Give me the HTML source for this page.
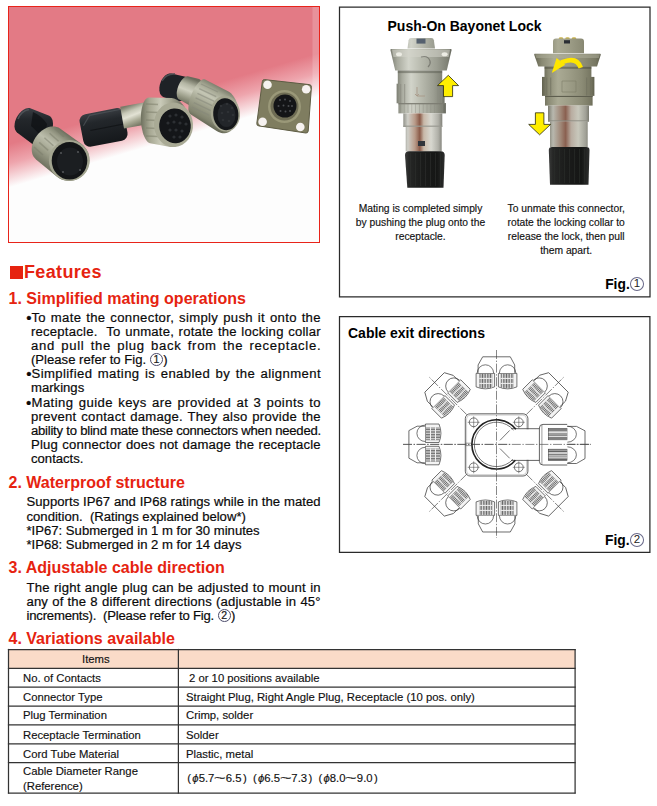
<!DOCTYPE html>
<html><head><meta charset="utf-8">
<style>
*{box-sizing:border-box}
html,body{margin:0;padding:0}
body{width:657px;height:806px;position:relative;overflow:hidden;background:#fff;font-family:"Liberation Sans",sans-serif;color:#000}
.a{position:absolute}
.h{color:#e62310;font-weight:bold;font-size:16px;line-height:20px;white-space:nowrap;left:8.5px}
.t{font-size:13.12px;line-height:14px;white-space:nowrap;color:#0a0a0a;-webkit-text-stroke:0.2px #0a0a0a}
.j{text-align:justify;text-align-last:justify;white-space:normal}
.c{display:inline-block;width:12.8px;height:12.8px;border:0.9px solid #4a4a6a;border-radius:50%;font-size:10.5px;line-height:11px;text-align:center;vertical-align:1.2px;margin:0 0.5px 0 0.3px;letter-spacing:0;text-indent:0;color:#222}
.cap{font-size:10.3px;line-height:13.8px;text-align:center;white-space:nowrap;color:#111;-webkit-text-stroke:0.15px #111}
.fig{font-weight:bold;font-size:13.8px;line-height:16px;white-space:nowrap}
.fig .c{width:14px;height:13.6px;font-weight:normal;font-size:11.5px;line-height:11.8px;vertical-align:2.1px;border-color:#6a6a8a;margin-left:0.3px}
.hl{position:absolute;height:1.3px;background:#333;left:8px;width:568px}
.vl{position:absolute;width:1.3px;background:#333;top:649px;height:144.6px}
.tt{position:absolute;font-size:11.3px;line-height:13px;white-space:nowrap;color:#111;-webkit-text-stroke:0.15px #111}
.b{display:inline-block;transform:translate(-0.5px,-0.1px) scale(1.15)}
.w{display:inline-block;width:11.4px;text-align:center;transform:scaleX(1.75)}
</style></head><body>

<!-- Photo -->
<div class="a" style="left:8px;top:6px;width:312px;height:237px;border:1px solid #e8241a;overflow:hidden">
<svg width="310" height="235" viewBox="9 7 310 235" style="display:block"><defs><linearGradient id="bg" gradientUnits="userSpaceOnUse" x1="158.8" y1="100" x2="170.6" y2="140"><stop offset="0" stop-color="#e37a85"/><stop offset="0.45" stop-color="#eea5ad"/><stop offset="1" stop-color="#fdfdfd"/></linearGradient><linearGradient id="rs" x1="0" y1="0" x2="1" y2="0"><stop offset="0" stop-color="#fff" stop-opacity="0"/><stop offset="1" stop-color="#fff" stop-opacity="0.55"/></linearGradient><linearGradient id="boot" x1="0" y1="0" x2="0" y2="1"><stop offset="0" stop-color="#3a3e43"/><stop offset="0.3" stop-color="#23272b"/><stop offset="1" stop-color="#15181b"/></linearGradient><linearGradient id="gCn" gradientUnits="userSpaceOnUse" x1="193.0" y1="79.0" x2="183.0" y2="105.0"><stop offset="0.00" stop-color="#6a6c5c"/><stop offset="0.25" stop-color="#b4b6a4"/><stop offset="0.45" stop-color="#cfd0c0"/><stop offset="0.70" stop-color="#9c9e8a"/><stop offset="1.00" stop-color="#5e604f"/></linearGradient><linearGradient id="gC" gradientUnits="userSpaceOnUse" x1="222.3" y1="85.3" x2="200.7" y2="123.7"><stop offset="0.00" stop-color="#6a6c5c"/><stop offset="0.18" stop-color="#a2a490"/><stop offset="0.36" stop-color="#c4c6b4"/><stop offset="0.60" stop-color="#a0a28d"/><stop offset="0.85" stop-color="#82846f"/><stop offset="1.00" stop-color="#5c5e4d"/></linearGradient><linearGradient id="gT" gradientUnits="userSpaceOnUse" x1="131.6" y1="104.4" x2="136.4" y2="127.6"><stop offset="0.00" stop-color="#7a7c6a"/><stop offset="0.25" stop-color="#c6c7b6"/><stop offset="0.45" stop-color="#e2e2d4"/><stop offset="0.70" stop-color="#a8a994"/><stop offset="1.00" stop-color="#6a6c5a"/></linearGradient><linearGradient id="gB" gradientUnits="userSpaceOnUse" x1="140.8" y1="122.9" x2="184.8" y2="122.9"><stop offset="0.00" stop-color="#6e705e"/><stop offset="0.20" stop-color="#a6a792"/><stop offset="0.45" stop-color="#c9cab8"/><stop offset="0.70" stop-color="#a2a38e"/><stop offset="1.00" stop-color="#65675a"/></linearGradient><linearGradient id="gA" gradientUnits="userSpaceOnUse" x1="71.3" y1="136.1" x2="47.0" y2="170.3"><stop offset="0.00" stop-color="#6a6d5c"/><stop offset="0.20" stop-color="#9c9e8a"/><stop offset="0.40" stop-color="#bcbeac"/><stop offset="0.65" stop-color="#9ea08b"/><stop offset="1.00" stop-color="#6a6c5a"/></linearGradient></defs><rect x="0" y="0" width="330" height="250" fill="url(#bg)"/><rect x="312.5" y="7" width="7" height="130" fill="#fff" opacity="0.18"/><path d="M159.4,89.0 L159.4,87.5 L159.6,85.9 L160.0,84.3 L160.5,82.8 L161.1,81.3 L161.8,79.8 L162.7,78.5 L163.6,77.3 L164.6,76.2 L165.7,75.3 L166.8,74.5 L167.9,74.0 L169.1,73.6 L170.2,73.4 L171.3,73.5 L184.4,76.5 L185.4,76.8 L186.4,77.2 L187.2,77.9 L188.0,78.8 L188.6,79.8 L189.1,81.0 L189.5,82.3 L189.7,83.7 L189.7,85.3 L189.6,86.9 L189.4,88.5 L189.0,90.1 L188.5,91.7 L187.9,93.3 L187.1,94.8 L186.2,96.2 L185.3,97.5 L184.3,98.6 L183.2,99.6 L182.0,100.4 L180.9,100.9 L179.8,101.3 L178.7,101.5 L177.6,101.5 L176.6,101.2 L163.7,97.2 L162.8,96.8 L161.9,96.1 L161.2,95.3 L160.5,94.3 L160.0,93.2 L159.7,91.9 L159.4,90.5Z" fill="#1e2226"/><path d="M162,81 Q166,73.5 175,74" stroke="#4a4e52" stroke-width="1.5" fill="none"/><path d="M176.7,93.3 L176.8,91.8 L177.1,90.4 L177.4,88.8 L177.9,87.3 L178.4,85.8 L179.1,84.3 L179.8,82.8 L180.7,81.5 L181.5,80.3 L182.4,79.2 L183.4,78.2 L184.3,77.4 L185.3,76.8 L186.2,76.4 L187.1,76.2 L187.9,76.2 L199.2,79.0 L199.9,79.4 L200.5,80.0 L201.0,80.9 L201.3,81.9 L201.5,83.1 L201.6,84.4 L201.6,85.9 L201.4,87.5 L201.1,89.1 L200.7,90.8 L200.2,92.5 L199.6,94.2 L198.8,95.9 L198.0,97.5 L197.1,99.0 L196.2,100.4 L195.2,101.7 L194.2,102.8 L193.2,103.7 L192.2,104.4 L191.3,104.9 L190.4,105.1 L189.5,105.2 L188.8,105.0 L179.3,99.6 L178.6,99.2 L178.0,98.6 L177.5,97.8 L177.2,96.9 L176.9,95.8 L176.8,94.6Z" fill="url(#gCn)"/><path d="M188.4,107.6 L188.5,105.6 L188.8,103.5 L189.3,101.3 L189.9,99.0 L190.6,96.7 L191.5,94.4 L192.5,92.1 L193.6,89.9 L194.7,87.8 L195.9,85.9 L197.2,84.2 L198.4,82.7 L199.7,81.4 L200.9,80.4 L202.1,79.7 L203.2,79.3 L204.2,79.2 L205.1,79.4 L227.5,91.0 L229.4,92.1 L231.2,93.6 L232.9,95.4 L234.3,97.4 L235.6,99.7 L236.7,102.2 L237.5,104.8 L238.1,107.6 L238.5,110.4 L238.5,113.3 L238.3,116.1 L237.9,118.8 L237.2,121.4 L236.2,123.9 L235.0,126.1 L233.6,128.1 L232.0,129.8 L230.3,131.2 L228.5,132.2 L226.5,132.9 L224.5,133.2 L222.5,133.2 L220.5,132.8 L218.5,132.0 L216.6,130.9 L190.1,114.1 L189.4,113.3 L188.9,112.3 L188.6,110.9 L188.4,109.4Z" fill="url(#gC)"/><path d="M201.0,84.0 l17,8" stroke="#85877a" stroke-width="1.3" fill="none" opacity="0.55"/><path d="M199.2,88.6 l17,8" stroke="#85877a" stroke-width="1.3" fill="none" opacity="0.55"/><path d="M197.4,93.3 l17,8" stroke="#85877a" stroke-width="1.3" fill="none" opacity="0.55"/><path d="M195.6,97.9 l17,8" stroke="#85877a" stroke-width="1.3" fill="none" opacity="0.55"/><path d="M193.8,102.6 l17,8" stroke="#85877a" stroke-width="1.3" fill="none" opacity="0.55"/><path d="M192.0,107.2 l17,8" stroke="#85877a" stroke-width="1.3" fill="none" opacity="0.55"/><ellipse cx="225.4" cy="113.6" rx="14.6" ry="17.9" transform="rotate(-6 225.4 113.6)" fill="#a4a590"/><ellipse cx="225.8" cy="114.2" rx="12.6" ry="16" transform="rotate(-6 225.8 114.2)" fill="#15171a"/><ellipse cx="226.5" cy="115" rx="9" ry="12" fill="#23262a"/><circle cx="221.0" cy="106.0" r="1.3" fill="#2e3135"/><circle cx="227.0" cy="104.0" r="1.3" fill="#2e3135"/><circle cx="232.0" cy="108.0" r="1.3" fill="#2e3135"/><circle cx="222.0" cy="113.0" r="1.3" fill="#2e3135"/><circle cx="228.0" cy="112.0" r="1.3" fill="#2e3135"/><circle cx="233.0" cy="115.0" r="1.3" fill="#2e3135"/><circle cx="223.0" cy="120.0" r="1.3" fill="#2e3135"/><circle cx="229.0" cy="121.0" r="1.3" fill="#2e3135"/><path d="M264.5,79.6 L309.4,84.6 Q311.6,85 311.4,87.2 L308.2,131 Q308,133.2 305.8,133 L258.8,125.9 Q256.6,125.6 256.8,123.4 L262.3,81.7 Q262.6,79.4 264.5,79.6 Z" fill="#7f7d60"/><path d="M264.5,79.6 L309.4,84.6 Q311.6,85 311.4,87.2 L308.2,131 Q308,133.2 305.8,133 L258.8,125.9 Q256.6,125.6 256.8,123.4 L262.3,81.7 Q262.6,79.4 264.5,79.6 Z" fill="none" stroke="#5e5c44" stroke-width="1"/><circle cx="267.5" cy="84.8" r="4.3" fill="#f6f2f0"/><circle cx="306.2" cy="89.3" r="4.3" fill="#f6f2f0"/><circle cx="262.6" cy="121.8" r="4.3" fill="#f6f2f0"/><circle cx="300.3" cy="127.0" r="4.3" fill="#f6f2f0"/><circle cx="284.5" cy="106.5" r="16.5" fill="#9a9878"/><circle cx="284.5" cy="106.5" r="14" fill="#6e6c54"/><circle cx="285" cy="106" r="11.5" fill="#141517"/><circle cx="280.0" cy="100.0" r="1" fill="#4a4c50"/><circle cx="285.0" cy="99.5" r="1" fill="#4a4c50"/><circle cx="290.0" cy="101.0" r="1" fill="#4a4c50"/><circle cx="278.5" cy="106.0" r="1" fill="#4a4c50"/><circle cx="283.5" cy="105.5" r="1" fill="#4a4c50"/><circle cx="288.5" cy="106.0" r="1" fill="#4a4c50"/><circle cx="292.0" cy="106.0" r="1" fill="#4a4c50"/><circle cx="280.5" cy="111.0" r="1" fill="#4a4c50"/><circle cx="285.5" cy="111.5" r="1" fill="#4a4c50"/><circle cx="290.0" cy="111.0" r="1" fill="#4a4c50"/><g transform="rotate(-11 103 127)"><rect x="81" y="111" width="45" height="33" rx="7" fill="url(#boot)"/><path d="M84,122 L92,113 L124,113" stroke="#50555a" stroke-width="1.2" fill="none" opacity="0.7"/><path d="M90,128 L124,128" stroke="#0e1012" stroke-width="1" opacity="0.7"/></g><g transform="rotate(-10 134 116)"><rect x="122" y="104.5" width="24" height="22" fill="url(#gT)"/></g><path d="M140.9,118.0 L141.0,115.0 L141.2,112.1 L141.6,109.4 L142.1,106.9 L142.8,104.6 L143.6,102.6 L144.5,100.8 L145.4,99.5 L146.5,98.4 L147.6,97.8 L148.8,97.5 L171.6,98.1 L174.0,98.6 L176.3,99.4 L178.5,100.7 L180.6,102.3 L182.5,104.3 L184.2,106.6 L185.7,109.2 L186.9,112.0 L187.9,115.0 L188.6,118.1 L189.0,121.2 L189.0,124.4 L188.8,127.6 L188.2,130.7 L187.4,133.6 L186.3,136.4 L184.9,138.9 L183.3,141.1 L181.5,143.0 L179.5,144.6 L177.3,145.8 L175.0,146.6 L172.7,146.9 L170.4,146.9 L150.0,143.3 L148.8,142.8 L147.7,141.9 L146.5,140.6 L145.5,139.0 L144.5,137.1 L143.6,134.9 L142.8,132.4 L142.2,129.7 L141.6,126.9 L141.2,124.0 L141.0,121.0Z" fill="url(#gB)"/><path d="M146,104.0 l12,0.5" stroke="#7d7f6c" stroke-width="1.6" fill="none" opacity="0.55"/><path d="M146,112.0 l12,0.5" stroke="#7d7f6c" stroke-width="1.6" fill="none" opacity="0.55"/><path d="M146,120.0 l12,0.5" stroke="#7d7f6c" stroke-width="1.6" fill="none" opacity="0.55"/><path d="M146,128.0 l12,0.5" stroke="#7d7f6c" stroke-width="1.6" fill="none" opacity="0.55"/><path d="M146,136.0 l12,0.5" stroke="#7d7f6c" stroke-width="1.6" fill="none" opacity="0.55"/><ellipse cx="173.5" cy="124.8" rx="19.5" ry="22.2" transform="rotate(-4 173.5 124.8)" fill="#a9aa95"/><ellipse cx="175" cy="125.8" rx="15.8" ry="17.4" transform="rotate(-4 175 125.8)" fill="#141619"/><circle cx="170.0" cy="116.0" r="1.6" fill="#2c2f33"/><circle cx="176.0" cy="115.0" r="1.6" fill="#2c2f33"/><circle cx="182.0" cy="117.0" r="1.6" fill="#2c2f33"/><circle cx="168.0" cy="123.0" r="1.6" fill="#2c2f33"/><circle cx="174.0" cy="122.0" r="1.6" fill="#2c2f33"/><circle cx="180.0" cy="123.0" r="1.6" fill="#2c2f33"/><circle cx="186.0" cy="124.0" r="1.6" fill="#2c2f33"/><circle cx="170.0" cy="130.0" r="1.6" fill="#2c2f33"/><circle cx="176.0" cy="130.0" r="1.6" fill="#2c2f33"/><circle cx="182.0" cy="131.0" r="1.6" fill="#2c2f33"/><circle cx="174.0" cy="137.0" r="1.6" fill="#2c2f33"/><circle cx="180.0" cy="137.0" r="1.6" fill="#2c2f33"/><path d="M14.5,126.4 L14.6,124.8 L14.8,123.2 L15.1,121.5 L15.7,119.8 L16.4,118.1 L17.2,116.5 L18.2,115.0 L19.3,113.5 L20.5,112.2 L21.7,111.0 L23.1,110.0 L24.4,109.2 L25.8,108.6 L27.2,108.2 L28.5,108.1 L29.7,108.1 L30.9,108.4 L48.0,115.2 L49.2,115.7 L50.3,116.5 L51.2,117.5 L51.9,118.7 L52.5,120.1 L52.8,121.7 L53.0,123.4 L52.9,125.3 L52.6,127.2 L52.2,129.2 L51.5,131.1 L50.7,133.1 L49.7,135.0 L48.5,136.8 L47.2,138.5 L45.8,140.1 L44.4,141.5 L42.8,142.7 L41.3,143.6 L39.7,144.4 L38.2,144.9 L36.7,145.1 L35.3,145.1 L34.0,144.8 L32.8,144.3 L31.7,143.5 L17.0,132.4 L16.2,131.5 L15.6,130.5 L15.0,129.2 L14.7,127.9Z" fill="url(#boot)"/><path d="M33,112 Q42,116 47,124 L44,140 Q36,130 31,126 Z" fill="#0f1114" opacity="0.75"/><path d="M18,119 Q21,111 29,109.5" stroke="#4d5257" stroke-width="1.5" fill="none"/><path d="M31.7,148.8 L31.9,146.5 L32.4,144.2 L33.2,141.9 L34.2,139.7 L35.5,137.5 L37.0,135.4 L38.6,133.4 L40.5,131.7 L42.4,130.2 L44.4,128.9 L46.6,127.8 L48.7,127.0 L50.8,126.6 L52.9,126.4 L54.9,126.5 L56.7,126.9 L58.5,127.6 L60.0,128.6 L81.6,144.1 L83.6,145.8 L85.3,147.9 L86.8,150.1 L88.0,152.5 L88.8,155.1 L89.3,157.7 L89.5,160.4 L89.3,163.1 L88.8,165.7 L88.0,168.3 L86.8,170.7 L85.3,172.9 L83.6,175.0 L81.6,176.7 L79.4,178.2 L77.0,179.4 L74.5,180.3 L71.9,180.8 L69.3,181.0 L66.7,180.8 L64.1,180.3 L61.6,179.4 L59.2,178.2 L57.0,176.7 L36.0,159.4 L34.7,158.1 L33.5,156.6 L32.7,154.9 L32.1,153.0 L31.8,150.9Z" fill="url(#gA)"/><path d="M34.0,147.0 l9,8" stroke="#7a7c69" stroke-width="1.5" fill="none" opacity="0.5"/><path d="M39.2,142.4 l9,8" stroke="#7a7c69" stroke-width="1.5" fill="none" opacity="0.5"/><path d="M44.4,137.8 l9,8" stroke="#7a7c69" stroke-width="1.5" fill="none" opacity="0.5"/><path d="M49.6,133.2 l9,8" stroke="#7a7c69" stroke-width="1.5" fill="none" opacity="0.5"/><path d="M54.8,128.6 l9,8" stroke="#7a7c69" stroke-width="1.5" fill="none" opacity="0.5"/><circle cx="69.3" cy="160.4" r="20.4" fill="#a3a590"/><ellipse cx="69.5" cy="160.8" rx="17.8" ry="18.8" fill="#131517"/><ellipse cx="70" cy="161.5" rx="13" ry="14" fill="#1b1e21"/><circle cx="61.0" cy="153.0" r="1.1" fill="#505356"/><circle cx="78.0" cy="152.0" r="1.1" fill="#505356"/><circle cx="63.0" cy="172.0" r="1.1" fill="#505356"/><circle cx="80.0" cy="170.0" r="1.1" fill="#505356"/></svg>
</div>

<!-- Panel 1 -->
<svg class="a" style="left:0;top:0" width="657" height="560" viewBox="0 0 657 560"><g fill="none" stroke="#2a2a2a" stroke-width="1.25"><path d="M339.5,7 H650 V296.9 H339.5 Z"/><path d="M339.5,316.6 H649.9 V552.3 H339.5 Z"/></g></svg>
<svg class="a" style="left:0;top:0" width="657" height="300" viewBox="0 0 657 300"><defs><linearGradient id="s1" gradientUnits="userSpaceOnUse" x1="390.0" y1="0" x2="452.0" y2="0"><stop offset="0.00" stop-color="#787a6e"/><stop offset="0.12" stop-color="#a8aa9e"/><stop offset="0.30" stop-color="#d2d4ca"/><stop offset="0.50" stop-color="#b9bbaf"/><stop offset="0.75" stop-color="#9c9e92"/><stop offset="0.92" stop-color="#808276"/><stop offset="1.00" stop-color="#64665c"/></linearGradient><linearGradient id="s2" gradientUnits="userSpaceOnUse" x1="396.0" y1="0" x2="446.0" y2="0"><stop offset="0.00" stop-color="#787a6e"/><stop offset="0.12" stop-color="#a8aa9e"/><stop offset="0.30" stop-color="#d2d4ca"/><stop offset="0.50" stop-color="#b9bbaf"/><stop offset="0.75" stop-color="#9c9e92"/><stop offset="0.92" stop-color="#808276"/><stop offset="1.00" stop-color="#64665c"/></linearGradient><linearGradient id="s3" gradientUnits="userSpaceOnUse" x1="403.0" y1="0" x2="443.0" y2="0"><stop offset="0.00" stop-color="#8e8e86"/><stop offset="0.12" stop-color="#cfcfc8"/><stop offset="0.30" stop-color="#b89a88"/><stop offset="0.42" stop-color="#8a5a48"/><stop offset="0.52" stop-color="#c8b8a8"/><stop offset="0.70" stop-color="#d8d8d0"/><stop offset="0.88" stop-color="#b0b0a8"/><stop offset="1.00" stop-color="#7a7a72"/></linearGradient><linearGradient id="c1" gradientUnits="userSpaceOnUse" x1="405.0" y1="0" x2="445.0" y2="0"><stop offset="0.00" stop-color="#3a3b3a"/><stop offset="0.10" stop-color="#262726"/><stop offset="0.40" stop-color="#1b1c1b"/><stop offset="0.80" stop-color="#151615"/><stop offset="1.00" stop-color="#2e2f2e"/></linearGradient><linearGradient id="o1" gradientUnits="userSpaceOnUse" x1="534.0" y1="0" x2="601.0" y2="0"><stop offset="0.00" stop-color="#62624f"/><stop offset="0.12" stop-color="#8a8a74"/><stop offset="0.30" stop-color="#aaaa94"/><stop offset="0.50" stop-color="#9e9e88"/><stop offset="0.75" stop-color="#8c8c76"/><stop offset="0.92" stop-color="#777762"/><stop offset="1.00" stop-color="#5c5c4a"/></linearGradient><linearGradient id="o2" gradientUnits="userSpaceOnUse" x1="542.0" y1="0" x2="595.0" y2="0"><stop offset="0.00" stop-color="#62624f"/><stop offset="0.12" stop-color="#8a8a74"/><stop offset="0.30" stop-color="#aaaa94"/><stop offset="0.50" stop-color="#9e9e88"/><stop offset="0.75" stop-color="#8c8c76"/><stop offset="0.92" stop-color="#777762"/><stop offset="1.00" stop-color="#5c5c4a"/></linearGradient><linearGradient id="o3" gradientUnits="userSpaceOnUse" x1="548.0" y1="0" x2="590.0" y2="0"><stop offset="0.00" stop-color="#7c7c70"/><stop offset="0.12" stop-color="#b8b8ae"/><stop offset="0.30" stop-color="#a08878"/><stop offset="0.42" stop-color="#8a6050"/><stop offset="0.55" stop-color="#b8aca0"/><stop offset="0.72" stop-color="#c8c8bc"/><stop offset="0.90" stop-color="#a0a096"/><stop offset="1.00" stop-color="#6e6e64"/></linearGradient><linearGradient id="c2" gradientUnits="userSpaceOnUse" x1="548.8" y1="0" x2="589.5" y2="0"><stop offset="0.00" stop-color="#3a3b3a"/><stop offset="0.10" stop-color="#262726"/><stop offset="0.40" stop-color="#1b1c1b"/><stop offset="0.80" stop-color="#151615"/><stop offset="1.00" stop-color="#2e2f2e"/></linearGradient></defs><path d="M407.5,48.6 L408.6,40.2 Q409,38 411.2,38 L431.3,38 Q433.5,38 433.9,40.2 L435,48.6 Z" fill="url(#s2)"/><rect x="416.5" y="38.6" width="9" height="5" fill="#55606e"/><path d="M391.2,49 L450.8,49 Q451.8,49 451.6,50 L446.8,70.5 L395.2,70.5 L390.4,50 Q390.2,49 391.2,49 Z" fill="url(#s1)"/><path d="M392,49.5 L450,49.5 L448.6,57 L393.4,57 Z" fill="#d4d4ca" opacity="0.55"/><ellipse cx="399" cy="54.3" rx="3" ry="2" fill="#ececE4"/><ellipse cx="444.6" cy="54.3" rx="3" ry="2" fill="#ececE4"/><path d="M421,57 q7,-2 9,4 q1,3 -2,6" stroke="#6a6a62" stroke-width="1.2" fill="none" opacity="0.7"/><rect x="397.8" y="70.5" width="44.4" height="13.5" fill="url(#s2)"/><rect x="397.8" y="70.5" width="44.4" height="2.6" fill="#5e6056" opacity="0.55"/><rect x="396.6" y="83.7" width="48" height="19.6" fill="url(#s2)"/><rect x="400.0" y="84" width="1.2" height="19" fill="#8a8a80" opacity="0.6"/><rect x="404.0" y="84" width="1.2" height="19" fill="#8a8a80" opacity="0.6"/><rect x="437.5" y="84" width="1.2" height="19" fill="#8a8a80" opacity="0.6"/><rect x="441.0" y="84" width="1.2" height="19" fill="#8a8a80" opacity="0.6"/><path d="M417,87 L417,96 L425,96 M417,96 l-2,-2 M417,96 l2,-2" stroke="#a89888" stroke-width="0.9" fill="none"/><rect x="398.4" y="103.1" width="47.5" height="10.3" fill="url(#s2)"/><rect x="398.4" y="103.1" width="47.5" height="1.2" fill="#7a7a70"/><rect x="400.0" y="104" width="0.8" height="9" fill="#8c8c82" opacity="0.5"/><rect x="403.8" y="104" width="0.8" height="9" fill="#8c8c82" opacity="0.5"/><rect x="407.6" y="104" width="0.8" height="9" fill="#8c8c82" opacity="0.5"/><rect x="411.4" y="104" width="0.8" height="9" fill="#8c8c82" opacity="0.5"/><rect x="415.2" y="104" width="0.8" height="9" fill="#8c8c82" opacity="0.5"/><rect x="419.0" y="104" width="0.8" height="9" fill="#8c8c82" opacity="0.5"/><rect x="422.8" y="104" width="0.8" height="9" fill="#8c8c82" opacity="0.5"/><rect x="426.6" y="104" width="0.8" height="9" fill="#8c8c82" opacity="0.5"/><rect x="430.4" y="104" width="0.8" height="9" fill="#8c8c82" opacity="0.5"/><rect x="434.2" y="104" width="0.8" height="9" fill="#8c8c82" opacity="0.5"/><rect x="438.0" y="104" width="0.8" height="9" fill="#8c8c82" opacity="0.5"/><rect x="441.8" y="104" width="0.8" height="9" fill="#8c8c82" opacity="0.5"/><rect x="403.3" y="113.4" width="39" height="13.4" fill="url(#s3)"/><rect x="403.3" y="125.6" width="39" height="1.4" fill="#9a9a92"/><rect x="405.7" y="126.8" width="36" height="24.6" fill="url(#s3)"/><rect x="418" y="141" width="7" height="5" fill="#30343a"/><path d="M405,155 Q405,151.2 409,151.2 L440.7,151.2 Q444.7,151.2 444.7,155 L443.5,187.7 L407.3,187.7 Z" fill="url(#c1)"/><rect x="410.0" y="153" width="1" height="33" fill="#2e302e" opacity="0.6"/><rect x="415.0" y="153" width="1" height="33" fill="#2e302e" opacity="0.6"/><rect x="420.0" y="153" width="1" height="33" fill="#2e302e" opacity="0.6"/><rect x="425.0" y="153" width="1" height="33" fill="#2e302e" opacity="0.6"/><rect x="430.0" y="153" width="1" height="33" fill="#2e302e" opacity="0.6"/><rect x="435.0" y="153" width="1" height="33" fill="#2e302e" opacity="0.6"/><rect x="440.0" y="153" width="1" height="33" fill="#2e302e" opacity="0.6"/><path d="M448.3,75.3 L458.6,85.6 L452.6,85.6 L452.6,96.6 L443.5,96.6 L443.5,85.6 L437.5,85.6 Z" fill="#ffee00" stroke="#2a2a10" stroke-width="0.8" stroke-linejoin="miter"/><ellipse cx="561.0" cy="38.6" rx="2.3" ry="1.4" fill="#c8b040"/><ellipse cx="567.5" cy="38.6" rx="2.3" ry="1.4" fill="#c8b040"/><ellipse cx="574.0" cy="38.6" rx="2.3" ry="1.4" fill="#c8b040"/><path d="M553,53.2 L553,41.5 Q553,38.6 556,38.6 L581,38.6 Q584,38.6 584,41.5 L584,53.2 Z" fill="url(#o2)"/><rect x="564" y="40.2" width="6" height="3.3" fill="#2a2e34"/><path d="M534.6,53.8 L600,53.8 Q601,53.8 600.7,55 L597,66.6 L538.3,66.6 L534.3,55 Q534,53.8 534.6,53.8 Z" fill="url(#o1)"/><path d="M535,54.2 L600,54.2 L598.8,58 L536.3,58 Z" fill="#b0b09c" opacity="0.5"/><rect x="544.5" y="66.4" width="46.9" height="11" fill="url(#o2)"/><rect x="544.5" y="66.4" width="46.9" height="2.4" fill="#4a4a3c" opacity="0.5"/><rect x="542" y="76.9" width="52.4" height="19" fill="url(#o2)"/><rect x="546.0" y="77.5" width="1.3" height="18" fill="#6e6e5c" opacity="0.55"/><rect x="550.0" y="77.5" width="1.3" height="18" fill="#6e6e5c" opacity="0.55"/><rect x="586.0" y="77.5" width="1.3" height="18" fill="#6e6e5c" opacity="0.55"/><rect x="590.0" y="77.5" width="1.3" height="18" fill="#6e6e5c" opacity="0.55"/><path d="M562,81 L576,81 L576,92 L562,92 Z" fill="none" stroke="#7a7a66" stroke-width="0.8" opacity="0.7"/><rect x="545" y="95.8" width="47.6" height="9.8" fill="url(#o2)"/><rect x="545" y="95.8" width="47.6" height="1.2" fill="#5e5e4e"/><rect x="548" y="105.5" width="41" height="15.9" fill="url(#o3)"/><rect x="548" y="120.4" width="41" height="1.3" fill="#8a8a80"/><rect x="550" y="121.5" width="37.7" height="25.5" fill="url(#o3)"/><path d="M548.8,150 Q548.8,146.9 552,146.9 L586.3,146.9 Q589.5,146.9 589.5,150 L588.5,184.7 L550,184.7 Z" fill="url(#c2)"/><rect x="554.0" y="149" width="1" height="34" fill="#2c2e2c" opacity="0.6"/><rect x="559.0" y="149" width="1" height="34" fill="#2c2e2c" opacity="0.6"/><rect x="564.0" y="149" width="1" height="34" fill="#2c2e2c" opacity="0.6"/><rect x="569.0" y="149" width="1" height="34" fill="#2c2e2c" opacity="0.6"/><rect x="574.0" y="149" width="1" height="34" fill="#2c2e2c" opacity="0.6"/><rect x="579.0" y="149" width="1" height="34" fill="#2c2e2c" opacity="0.6"/><rect x="584.0" y="149" width="1" height="34" fill="#2c2e2c" opacity="0.6"/><path d="M580.8,67.8 Q577.5,58.6 568,60.4 L561,62.4" stroke="#ffe600" stroke-width="4.6" fill="none" stroke-linecap="butt" stroke-linejoin="round"/><path d="M551.8,73 L556.6,58 L565.2,64.8 Z" fill="#ffe600"/><path d="M535.4,112.8 L543.9,112.8 L543.9,124.4 L550.6,124.4 L539.6,134.8 L528.7,124.4 L535.4,124.4 Z" fill="#ffee00" stroke="#2a2a10" stroke-width="0.8"/></svg>
<div class="a" style="left:387.5px;top:17px;font-weight:bold;font-size:14px;line-height:18px;white-space:nowrap">Push-On Bayonet Lock</div>
<div class="a cap" style="left:340.5px;top:202.3px;width:160px">Mating is completed simply<br>by pushing the plug onto the<br>receptacle.</div>
<div class="a cap" style="left:486.2px;top:202.3px;width:160px">To unmate this connector,<br>rotate the locking collar to<br>release the lock, then pull<br>them apart.</div>
<div class="a fig" style="left:605.2px;top:277.2px">Fig.<span class="c">1</span></div>

<!-- Panel 2 -->

<svg class="a" style="left:0;top:300px" width="657" height="260" viewBox="0 300 657 260"><defs><pattern id="hv" width="1.6" height="4" patternUnits="userSpaceOnUse"><rect width="1.6" height="4" fill="#d8d8d8"/><rect width="0.8" height="4" fill="#6a6a6a"/></pattern><pattern id="hh" width="4" height="1.6" patternUnits="userSpaceOnUse"><rect width="4" height="1.6" fill="#c8c8c8"/><rect width="4" height="0.8" fill="#555"/></pattern></defs><line x1="403" y1="444.4" x2="591" y2="444.4" stroke="#555" stroke-width="0.7" stroke-dasharray="9 1.6 1.4 1.6"/><line x1="496.5" y1="350" x2="496.5" y2="538" stroke="#555" stroke-width="0.7" stroke-dasharray="9 1.6 1.4 1.6"/><g transform="translate(496.5 444.4) rotate(45)"><line x1="0" y1="-42" x2="0" y2="-96" stroke="#555" stroke-width="0.7" stroke-dasharray="9 1.6 1.4 1.6"/></g><g transform="translate(496.5 444.4) rotate(135)"><line x1="0" y1="-42" x2="0" y2="-96" stroke="#555" stroke-width="0.7" stroke-dasharray="9 1.6 1.4 1.6"/></g><g transform="translate(496.5 444.4) rotate(225)"><line x1="0" y1="-42" x2="0" y2="-96" stroke="#555" stroke-width="0.7" stroke-dasharray="9 1.6 1.4 1.6"/></g><g transform="translate(496.5 444.4) rotate(315)"><line x1="0" y1="-42" x2="0" y2="-96" stroke="#555" stroke-width="0.7" stroke-dasharray="9 1.6 1.4 1.6"/></g><g transform="translate(496.5 444.4) rotate(0)"><path d="M-20.4,-71 L-1.9,-71 L-1.9,-57.5 Q-11.1,-53.6 -20.4,-57.5 Z" fill="#f4f4f4" stroke="#3c3c3c" stroke-width="0.7"/><rect x="-17.2" y="-70.5" width="13.1" height="14" fill="url(#hv)"/><rect x="-17.2" y="-66.5" width="13.1" height="1" fill="#f2f2f2"/><rect x="-17.2" y="-61.5" width="13.1" height="1" fill="#f2f2f2"/><path d="M-19.3,-71.3 A8.2,8.3 0 0 1 -2.9,-71.3" fill="#fff" stroke="#3c3c3c" stroke-width="0.7"/><path d="M1.9,-71 L20.4,-71 L20.4,-57.5 Q11.1,-53.6 1.9,-57.5 Z" fill="#f4f4f4" stroke="#3c3c3c" stroke-width="0.7"/><rect x="4.1" y="-70.5" width="13.1" height="14" fill="url(#hv)"/><rect x="4.1" y="-66.5" width="13.1" height="1" fill="#f2f2f2"/><rect x="4.1" y="-61.5" width="13.1" height="1" fill="#f2f2f2"/><path d="M2.9,-71.3 A8.2,8.3 0 0 1 19.3,-71.3" fill="#fff" stroke="#3c3c3c" stroke-width="0.7"/><path d="M-18.4,-71.6 L-18.4,-79.4 L-13.8,-87.6 L13.8,-87.6 L18.2,-79.4 L18.2,-71.6" fill="none" stroke="#3c3c3c" stroke-width="0.75"/></g><g transform="translate(496.5 444.4) rotate(-45)"><path d="M-20.4,-71 L-1.9,-71 L-1.9,-57.5 Q-11.1,-53.6 -20.4,-57.5 Z" fill="#f4f4f4" stroke="#3c3c3c" stroke-width="0.7"/><rect x="-17.2" y="-70.5" width="13.1" height="14" fill="url(#hv)"/><rect x="-17.2" y="-66.5" width="13.1" height="1" fill="#f2f2f2"/><rect x="-17.2" y="-61.5" width="13.1" height="1" fill="#f2f2f2"/><path d="M-19.3,-71.3 A8.2,8.3 0 0 1 -2.9,-71.3" fill="#fff" stroke="#3c3c3c" stroke-width="0.7"/><path d="M1.9,-71 L20.4,-71 L20.4,-57.5 Q11.1,-53.6 1.9,-57.5 Z" fill="#f4f4f4" stroke="#3c3c3c" stroke-width="0.7"/><rect x="4.1" y="-70.5" width="13.1" height="14" fill="url(#hv)"/><rect x="4.1" y="-66.5" width="13.1" height="1" fill="#f2f2f2"/><rect x="4.1" y="-61.5" width="13.1" height="1" fill="#f2f2f2"/><path d="M2.9,-71.3 A8.2,8.3 0 0 1 19.3,-71.3" fill="#fff" stroke="#3c3c3c" stroke-width="0.7"/><path d="M-18.4,-71.6 L-18.4,-79.4 L-13.8,-87.6 L13.8,-87.6 L18.2,-79.4 L18.2,-71.6" fill="none" stroke="#3c3c3c" stroke-width="0.75"/></g><g transform="translate(496.5 444.4) rotate(-90)"><path d="M-20.4,-71 L-1.9,-71 L-1.9,-57.5 Q-11.1,-53.6 -20.4,-57.5 Z" fill="#f4f4f4" stroke="#3c3c3c" stroke-width="0.7"/><rect x="-17.2" y="-70.5" width="13.1" height="14" fill="url(#hv)"/><rect x="-17.2" y="-66.5" width="13.1" height="1" fill="#f2f2f2"/><rect x="-17.2" y="-61.5" width="13.1" height="1" fill="#f2f2f2"/><path d="M-19.3,-71.3 A8.2,8.3 0 0 1 -2.9,-71.3" fill="#fff" stroke="#3c3c3c" stroke-width="0.7"/><path d="M1.9,-71 L20.4,-71 L20.4,-57.5 Q11.1,-53.6 1.9,-57.5 Z" fill="#f4f4f4" stroke="#3c3c3c" stroke-width="0.7"/><rect x="4.1" y="-70.5" width="13.1" height="14" fill="url(#hv)"/><rect x="4.1" y="-66.5" width="13.1" height="1" fill="#f2f2f2"/><rect x="4.1" y="-61.5" width="13.1" height="1" fill="#f2f2f2"/><path d="M2.9,-71.3 A8.2,8.3 0 0 1 19.3,-71.3" fill="#fff" stroke="#3c3c3c" stroke-width="0.7"/><path d="M-18.4,-71.6 L-18.4,-79.4 L-13.8,-87.6 L13.8,-87.6 L18.2,-79.4 L18.2,-71.6" fill="none" stroke="#3c3c3c" stroke-width="0.75"/></g><g transform="translate(496.5 444.4) rotate(-135)"><path d="M-20.4,-71 L-1.9,-71 L-1.9,-57.5 Q-11.1,-53.6 -20.4,-57.5 Z" fill="#f4f4f4" stroke="#3c3c3c" stroke-width="0.7"/><rect x="-17.2" y="-70.5" width="13.1" height="14" fill="url(#hv)"/><rect x="-17.2" y="-66.5" width="13.1" height="1" fill="#f2f2f2"/><rect x="-17.2" y="-61.5" width="13.1" height="1" fill="#f2f2f2"/><path d="M-19.3,-71.3 A8.2,8.3 0 0 1 -2.9,-71.3" fill="#fff" stroke="#3c3c3c" stroke-width="0.7"/><path d="M1.9,-71 L20.4,-71 L20.4,-57.5 Q11.1,-53.6 1.9,-57.5 Z" fill="#f4f4f4" stroke="#3c3c3c" stroke-width="0.7"/><rect x="4.1" y="-70.5" width="13.1" height="14" fill="url(#hv)"/><rect x="4.1" y="-66.5" width="13.1" height="1" fill="#f2f2f2"/><rect x="4.1" y="-61.5" width="13.1" height="1" fill="#f2f2f2"/><path d="M2.9,-71.3 A8.2,8.3 0 0 1 19.3,-71.3" fill="#fff" stroke="#3c3c3c" stroke-width="0.7"/><path d="M-18.4,-71.6 L-18.4,-79.4 L-13.8,-87.6 L13.8,-87.6 L18.2,-79.4 L18.2,-71.6" fill="none" stroke="#3c3c3c" stroke-width="0.75"/></g><g transform="translate(496.5 444.4) rotate(180)"><path d="M-20.4,-71 L-1.9,-71 L-1.9,-57.5 Q-11.1,-53.6 -20.4,-57.5 Z" fill="#f4f4f4" stroke="#3c3c3c" stroke-width="0.7"/><rect x="-17.2" y="-70.5" width="13.1" height="14" fill="url(#hv)"/><rect x="-17.2" y="-66.5" width="13.1" height="1" fill="#f2f2f2"/><rect x="-17.2" y="-61.5" width="13.1" height="1" fill="#f2f2f2"/><path d="M-19.3,-71.3 A8.2,8.3 0 0 1 -2.9,-71.3" fill="#fff" stroke="#3c3c3c" stroke-width="0.7"/><path d="M1.9,-71 L20.4,-71 L20.4,-57.5 Q11.1,-53.6 1.9,-57.5 Z" fill="#f4f4f4" stroke="#3c3c3c" stroke-width="0.7"/><rect x="4.1" y="-70.5" width="13.1" height="14" fill="url(#hv)"/><rect x="4.1" y="-66.5" width="13.1" height="1" fill="#f2f2f2"/><rect x="4.1" y="-61.5" width="13.1" height="1" fill="#f2f2f2"/><path d="M2.9,-71.3 A8.2,8.3 0 0 1 19.3,-71.3" fill="#fff" stroke="#3c3c3c" stroke-width="0.7"/><path d="M-18.4,-71.6 L-18.4,-79.4 L-13.8,-87.6 L13.8,-87.6 L18.2,-79.4 L18.2,-71.6" fill="none" stroke="#3c3c3c" stroke-width="0.75"/></g><g transform="translate(496.5 444.4) rotate(135)"><path d="M-20.4,-71 L-1.9,-71 L-1.9,-57.5 Q-11.1,-53.6 -20.4,-57.5 Z" fill="#f4f4f4" stroke="#3c3c3c" stroke-width="0.7"/><rect x="-17.2" y="-70.5" width="13.1" height="14" fill="url(#hv)"/><rect x="-17.2" y="-66.5" width="13.1" height="1" fill="#f2f2f2"/><rect x="-17.2" y="-61.5" width="13.1" height="1" fill="#f2f2f2"/><path d="M-19.3,-71.3 A8.2,8.3 0 0 1 -2.9,-71.3" fill="#fff" stroke="#3c3c3c" stroke-width="0.7"/><path d="M1.9,-71 L20.4,-71 L20.4,-57.5 Q11.1,-53.6 1.9,-57.5 Z" fill="#f4f4f4" stroke="#3c3c3c" stroke-width="0.7"/><rect x="4.1" y="-70.5" width="13.1" height="14" fill="url(#hv)"/><rect x="4.1" y="-66.5" width="13.1" height="1" fill="#f2f2f2"/><rect x="4.1" y="-61.5" width="13.1" height="1" fill="#f2f2f2"/><path d="M2.9,-71.3 A8.2,8.3 0 0 1 19.3,-71.3" fill="#fff" stroke="#3c3c3c" stroke-width="0.7"/><path d="M-18.4,-71.6 L-18.4,-79.4 L-13.8,-87.6 L13.8,-87.6 L18.2,-79.4 L18.2,-71.6" fill="none" stroke="#3c3c3c" stroke-width="0.75"/></g><g transform="translate(496.5 444.4) rotate(45)"><path d="M-20.4,-71 L-1.9,-71 L-1.9,-57.5 Q-11.1,-53.6 -20.4,-57.5 Z" fill="#f4f4f4" stroke="#3c3c3c" stroke-width="0.7"/><rect x="-17.2" y="-70.5" width="13.1" height="14" fill="url(#hv)"/><rect x="-17.2" y="-66.5" width="13.1" height="1" fill="#f2f2f2"/><rect x="-17.2" y="-61.5" width="13.1" height="1" fill="#f2f2f2"/><path d="M-19.3,-71.3 A8.2,8.3 0 0 1 -2.9,-71.3" fill="#fff" stroke="#3c3c3c" stroke-width="0.7"/><path d="M1.9,-71 L20.4,-71 L20.4,-57.5 Q11.1,-53.6 1.9,-57.5 Z" fill="#f4f4f4" stroke="#3c3c3c" stroke-width="0.7"/><rect x="4.1" y="-70.5" width="13.1" height="14" fill="url(#hv)"/><rect x="4.1" y="-66.5" width="13.1" height="1" fill="#f2f2f2"/><rect x="4.1" y="-61.5" width="13.1" height="1" fill="#f2f2f2"/><path d="M2.9,-71.3 A8.2,8.3 0 0 1 19.3,-71.3" fill="#fff" stroke="#3c3c3c" stroke-width="0.7"/><path d="M-18.4,-71.6 L-18.4,-79.4 L-13.8,-87.6 L13.8,-87.6 L18.2,-79.4 L18.2,-71.6" fill="none" stroke="#3c3c3c" stroke-width="0.75"/></g><rect x="465.3" y="413.8" width="62.6" height="62.2" rx="4.8" fill="none" stroke="#3c3c3c" stroke-width="0.8"/><rect x="466.6" y="415.1" width="60" height="59.6" rx="3.8" fill="none" stroke="#888" stroke-width="0.4"/><circle cx="473.7" cy="422.3" r="4.4" fill="none" stroke="#3c3c3c" stroke-width="0.7"/><path d="M467.7,422.3 h12 M473.7,416.3 v12" stroke="#3c3c3c" stroke-width="0.5"/><circle cx="473.7" cy="467.3" r="4.4" fill="none" stroke="#3c3c3c" stroke-width="0.7"/><path d="M467.7,467.3 h12 M473.7,461.3 v12" stroke="#3c3c3c" stroke-width="0.5"/><circle cx="518.8" cy="422.3" r="4.4" fill="none" stroke="#3c3c3c" stroke-width="0.7"/><path d="M512.8,422.3 h12 M518.8,416.3 v12" stroke="#3c3c3c" stroke-width="0.5"/><circle cx="518.8" cy="467.3" r="4.4" fill="none" stroke="#3c3c3c" stroke-width="0.7"/><path d="M512.8,467.3 h12 M518.8,461.3 v12" stroke="#3c3c3c" stroke-width="0.5"/><rect x="511" y="429.3" width="28.4" height="30.5" fill="#fff"/><line x1="403" y1="444.4" x2="591" y2="444.4" stroke="#555" stroke-width="0.7" stroke-dasharray="9 1.6 1.4 1.6"/><path d="M511,428.7 L540,428.7 M511,460.4 L540,460.4" stroke="#3c3c3c" stroke-width="0.8"/><path d="M500,440.3 L509.7,430.4 M500,448.6 L509.7,458.3" stroke="#3c3c3c" stroke-width="0.7"/><path d="M515.34,460.21 A24.6,24.6 0 1 1 515.89,429.25" fill="none" stroke="#222" stroke-width="1.6"/><path d="M513.00,459.25 A22.2,22.2 0 1 1 513.51,430.13" fill="none" stroke="#3c3c3c" stroke-width="0.7"/><path d="M465.5,443.2 h5.5 M465.5,445.6 h5.5" stroke="#3c3c3c" stroke-width="0.5"/><path d="M567.2,424.4 L543,424.4 Q539.4,424.4 539.4,428 L539.4,461.4 Q539.4,465 543,465 L567.2,465" fill="#fff" stroke="#3c3c3c" stroke-width="0.8"/><line x1="541.9" y1="424.8" x2="541.9" y2="464.6" stroke="#3c3c3c" stroke-width="0.5"/><rect x="548.3" y="428.4" width="19.3" height="11.4" fill="url(#hh)" stroke="#3c3c3c" stroke-width="0.6"/><rect x="548.6" y="431.9" width="18.7" height="1" fill="#eee"/><rect x="548.6" y="435.7" width="18.7" height="1" fill="#eee"/><rect x="548.3" y="449.2" width="19.3" height="11.3" fill="url(#hh)" stroke="#3c3c3c" stroke-width="0.6"/><rect x="548.6" y="452.7" width="18.7" height="1" fill="#eee"/><rect x="548.6" y="456.5" width="18.7" height="1" fill="#eee"/><path d="M567.4,426.2 A9,8 0 0 1 567.4,442.2" fill="#fff" stroke="#3c3c3c" stroke-width="0.7"/><path d="M567.4,446.8 A9,8 0 0 1 567.4,462.8" fill="#fff" stroke="#3c3c3c" stroke-width="0.7"/><path d="M567.2,426.4 L576.5,426.4 L585,430.8 L585,458.6 L576.5,463.5 L567.2,463.5" fill="none" stroke="#3c3c3c" stroke-width="0.75"/><line x1="539.4" y1="444.4" x2="591" y2="444.4" stroke="#555" stroke-width="0.7" stroke-dasharray="9 1.6 1.4 1.6"/></svg>
<div class="a" style="left:348px;top:324px;font-weight:bold;font-size:14px;line-height:18px;white-space:nowrap">Cable exit directions</div>
<div class="a fig" style="left:605px;top:533.2px">Fig.<span class="c">2</span></div>

<!-- Features -->
<div class="a" style="left:9.5px;top:266.3px;width:13.3px;height:12.5px;background:#e62310"></div>
<div class="a" style="left:24px;top:261px;color:#e62310;font-weight:bold;font-size:18px;line-height:22px;white-space:nowrap;letter-spacing:0.35px">Features</div>

<div class="a h" style="top:289.2px">1. Simplified mating operations</div>
<div class="a h" style="top:473px">2. Waterproof structure</div>
<div class="a h" style="top:557.7px">3. Adjustable cable direction</div>
<div class="a h" style="top:628.9px">4. Variations available</div>

<div class="a t j" style="left:26.5px;top:310.70px;width:294.4px;letter-spacing:0.338px"><span class="b">•</span>To mate the connector, simply push it onto the</div>
<div class="a t j" style="left:31.0px;top:324.85px;width:289.8px;letter-spacing:0.215px">receptacle.&nbsp; To unmate, rotate the locking collar</div>
<div class="a t j" style="left:31.0px;top:339.00px;width:290.3px;letter-spacing:0.691px">and pull the plug back from the receptacle.</div>
<div class="a t" style="left:31.0px;top:353.15px">(Please refer to Fig. <span class="c">1</span>)</div>
<div class="a t j" style="left:26.5px;top:367.30px;width:294.5px;letter-spacing:0.401px"><span class="b">•</span>Simplified mating is enabled by the alignment</div>
<div class="a t" style="left:31.0px;top:381.45px">markings</div>
<div class="a t j" style="left:26.5px;top:395.60px;width:294.5px;letter-spacing:0.434px"><span class="b">•</span>Mating guide keys are provided at 3 points to</div>
<div class="a t j" style="left:31.0px;top:409.75px;width:289.9px;letter-spacing:0.256px">prevent contact damage. They also provide the</div>
<div class="a t j" style="left:31.0px;top:423.90px;width:289.9px;letter-spacing:-0.240px">ability to blind mate these connectors when needed.</div>
<div class="a t j" style="left:31.0px;top:438.05px;width:289.8px;letter-spacing:0.172px">Plug connector does not damage the receptacle</div>
<div class="a t" style="left:31.0px;top:452.20px">contacts.</div>
<div class="a t j" style="left:26.5px;top:495.30px;width:294.1px;letter-spacing:0.036px">Supports IP67 and IP68 ratings while in the mated</div>
<div class="a t" style="left:26.5px;top:509.50px">condition.&nbsp; (Ratings explained below*)</div>
<div class="a t" style="left:26.5px;top:523.60px">*IP67: Submerged in 1 m for 30 minutes</div>
<div class="a t" style="left:26.5px;top:537.50px">*IP68: Submerged in 2 m for 14 days</div>
<div class="a t j" style="left:26.5px;top:580.90px;width:294.3px;letter-spacing:0.196px">The right angle plug can be adjusted to mount in</div>
<div class="a t j" style="left:26.5px;top:594.80px;width:294.2px;letter-spacing:0.133px">any of the 8 different directions (adjustable in 45°</div>
<div class="a t" style="left:26.5px;top:608.90px;letter-spacing:-0.2px">increments).&nbsp; (Please refer to Fig. <span class="c">2</span>)</div>

<!-- Table -->
<svg class="a" style="left:0;top:640px" width="657" height="40" viewBox="0 640 657 40"><rect x="8.5" y="649.5" width="566.6" height="18.8" fill="#fadbc8"/></svg>
<svg class="a" style="left:0;top:640px" width="657" height="166" viewBox="0 640 657 166"><g stroke="#333" stroke-width="1.25"><line x1="7.9" y1="649.5" x2="575.7" y2="649.5"/><line x1="7.9" y1="668.3" x2="575.7" y2="668.3"/><line x1="7.9" y1="687.2" x2="575.7" y2="687.2"/><line x1="7.9" y1="706.0" x2="575.7" y2="706.0"/><line x1="7.9" y1="724.8" x2="575.7" y2="724.8"/><line x1="7.9" y1="743.8" x2="575.7" y2="743.8"/><line x1="7.9" y1="762.7" x2="575.7" y2="762.7"/><line x1="7.9" y1="793.0" x2="575.7" y2="793.0"/><line x1="8.5" y1="648.9" x2="8.5" y2="793.6"/><line x1="178.4" y1="648.9" x2="178.4" y2="793.6"/><line x1="575.1" y1="648.9" x2="575.1" y2="793.6"/></g></svg>

<div class="tt" style="left:82px;top:652.8px">Items</div>
<div class="tt" style="left:23px;top:671.7px">No. of Contacts</div>
<div class="tt" style="left:23px;top:690.9px">Connector Type</div>
<div class="tt" style="left:23px;top:709.4px">Plug Termination</div>
<div class="tt" style="left:23px;top:728.6px">Receptacle Termination</div>
<div class="tt" style="left:23px;top:747.9px">Cord Tube Material</div>
<div class="tt" style="left:23px;top:764px;line-height:14.6px">Cable Diameter Range<br>(Reference)</div>
<div class="tt" style="left:189px;top:671.7px">2 or 10 positions available</div>
<div class="tt" style="left:186px;top:690.9px">Straight Plug, Right Angle Plug, Receptacle (10 pos. only)</div>
<div class="tt" style="left:186px;top:709.4px">Crimp, solder</div>
<div class="tt" style="left:186px;top:728.6px">Solder</div>
<div class="tt" style="left:186px;top:747.9px">Plastic, metal</div>
<div class="tt" style="left:187.3px;top:772.4px">(<span style="margin-left:1.3px"><i>ϕ</i>5.7</span><span class="w">~</span>6.5<span style="margin-left:1.4px">)</span></div>
<div class="tt" style="left:252.9px;top:772.4px">(<span style="margin-left:1.3px"><i>ϕ</i>6.5</span><span class="w">~</span>7.3<span style="margin-left:1.4px">)</span></div>
<div class="tt" style="left:318.4px;top:772.4px">(<span style="margin-left:1.3px"><i>ϕ</i>8.0</span><span class="w">~</span>9.0<span style="margin-left:1.4px">)</span></div>

</body></html>
